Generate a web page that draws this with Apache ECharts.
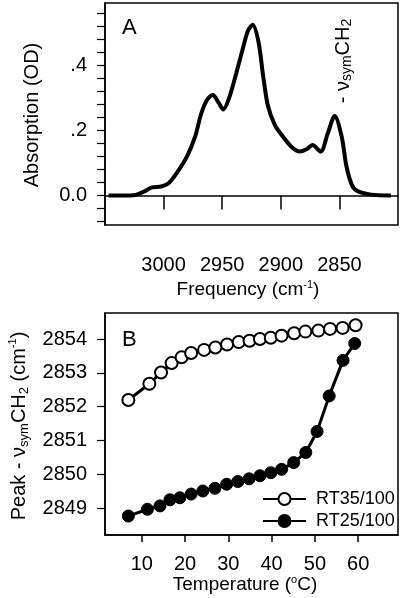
<!DOCTYPE html>
<html><head><meta charset="utf-8">
<script src="https://cdn.jsdelivr.net/npm/echarts@6/dist/echarts.min.js"></script>
<style>html,body{margin:0;padding:0;background:#fff}#c{width:400px;height:598px}</style>
</head><body><div id="c"></div>
<script>
// Panel A: IR spectrum
const freq = [3047,3035,3024,3017,3010,3002,2996,2989,2980,2973,2968,2963,2958,2953,2949,2944,2938,2932,2928,2924,2919,2915,2911,2905,2898,2891,2884,2878,2873,2866,2860,2854,2848,2844,2839,2834,2823,2806];
const absorb = [0.000,0.000,0.002,0.012,0.025,0.028,0.037,0.068,0.120,0.182,0.250,0.293,0.308,0.284,0.264,0.300,0.375,0.456,0.505,0.523,0.470,0.365,0.275,0.216,0.180,0.150,0.135,0.142,0.155,0.135,0.190,0.244,0.180,0.090,0.030,0.013,0.003,0.000];
const freqTicks = [2850,2900,2950,3000];
const absLabelTicks = [0,0.2,0.4];
const absTicks = [-0.08,-0.04,0,0.04,0.08,0.12,0.16,0.2,0.24,0.28,0.32,0.36,0.4,0.44,0.48,0.52,0.56];

// Panel B: peak position vs temperature
const tempOpen = [6.9,11.75,14.45,16.9,19.2,21.4,24.4,27.0,29.7,32.4,34.9,37.3,39.8,42.3,45.2,47.8,50.8,53.5,56.4,59.4];
const peakOpen = [2852.20,2852.68,2853.01,2853.29,2853.46,2853.59,2853.68,2853.75,2853.84,2853.91,2853.95,2854.00,2854.04,2854.10,2854.17,2854.22,2854.25,2854.30,2854.33,2854.41];
const tempFilled = [6.9,11.3,14.2,16.5,18.8,21.4,24.1,26.9,29.6,32.2,34.8,37.3,39.8,42.3,45.1,47.9,50.5,53.3,56.5,59.2];
const peakFilled = [2848.77,2848.97,2849.07,2849.25,2849.31,2849.42,2849.51,2849.59,2849.71,2849.79,2849.87,2849.96,2850.05,2850.15,2850.35,2850.65,2851.27,2852.32,2853.37,2853.87];
const tempTicks = [10,20,30,40,50,60];
const peakTicks = [2849,2850,2851,2852,2853,2854];
const seriesNames = ['RT35/100','RT25/100'];

const FF = 'Liberation Sans, Arial, sans-serif';
const black = '#000';
const plain = v => String(v);

function axisCommon(){
  return {
    axisLine:{show:true, lineStyle:{color:black, width:1.5}},
    splitLine:{show:false},
  };
}

const chart = echarts.init(document.getElementById('c'), null, {renderer:'canvas'});
chart.setOption({
  animation:false,
  backgroundColor:'#fff',
  grid:[
    {left:105, top:3, width:293, height:222, show:true, borderColor:black, borderWidth:1.5},
    {left:105, top:313, width:293, height:222, show:true, borderColor:black, borderWidth:1.5}
  ],
  xAxis:[
    Object.assign(axisCommon(), {gridIndex:0, type:'value', min:2800, max:3050, inverse:true,
      axisTick:{show:true, length:14, customValues:freqTicks, lineStyle:{color:black, width:1.5}},
      axisLabel:{customValues:freqTicks, margin:30, fontSize:20, color:black, fontFamily:FF, formatter:plain}}),
    Object.assign(axisCommon(), {gridIndex:1, type:'value', min:1.5, max:69.2,
      axisTick:{show:true, length:7, customValues:tempTicks, lineStyle:{color:black, width:1.5}},
      axisLabel:{customValues:tempTicks, margin:19, fontSize:20, color:black, fontFamily:FF, formatter:plain}})
  ],
  yAxis:[
    Object.assign(axisCommon(), {gridIndex:0, type:'value', min:-0.09, max:0.59,
      axisTick:{show:true, length:8, customValues:absTicks, lineStyle:{color:black, width:1.2}},
      axisLabel:{customValues:absLabelTicks, margin:18, fontSize:20, color:black, fontFamily:FF,
        formatter:v => Math.abs(v) < 1e-9 ? '0.0' : '.' + Math.round(v*10)}}),
    Object.assign(axisCommon(), {gridIndex:1, type:'value', min:2848.21, max:2854.77,
      axisTick:{show:true, length:8, customValues:peakTicks, lineStyle:{color:black, width:1.2}},
      axisLabel:{customValues:peakTicks, margin:18, fontSize:20, color:black, fontFamily:FF, formatter:plain}})
  ],
  legend:{
    data:seriesNames, orient:'vertical', left:257, top:485, itemWidth:43, itemHeight:15, itemGap:4,
    selectedMode:false,
    textStyle:{fontSize:18, color:black, fontFamily:FF, lineHeight:15, padding:[0,0,0,5]}
  },
  series:[
    {type:'line', name:'spectrum', xAxisIndex:0, yAxisIndex:0, symbol:'none', smooth:0.3,
      lineStyle:{color:black, width:4}, itemStyle:{color:black},
      data:freq.map((f,i)=>[f, absorb[i]])},
    {type:'line', name:seriesNames[0], xAxisIndex:1, yAxisIndex:1, symbol:'circle', symbolSize:12,
      lineStyle:{color:black, width:3}, itemStyle:{color:'#fff', borderColor:black, borderWidth:2},
      data:tempOpen.map((t,i)=>[t, peakOpen[i]])},
    {type:'line', name:seriesNames[1], xAxisIndex:1, yAxisIndex:1, symbol:'circle', symbolSize:12,
      lineStyle:{color:black, width:3}, itemStyle:{color:black, borderColor:black, borderWidth:1},
      data:tempFilled.map((t,i)=>[t, peakFilled[i]])}
  ],
  graphic:[
    {type:'text', x:122, y:28, style:{text:'A', fontSize:22, fontFamily:FF, fill:black, align:'left', verticalAlign:'middle'}},
    {type:'text', x:122, y:340, style:{text:'B', fontSize:22, fontFamily:FF, fill:black, align:'left', verticalAlign:'middle'}},
    {type:'text', x:343, y:61, rotation:Math.PI/2,
      style:{text:'{a|- ν}{s|sym}{a|CH}{s|2}', align:'center', verticalAlign:'middle',
        rich:{a:{fontSize:20, fontFamily:FF, fill:black, lineHeight:23}, s:{fontSize:14, fontFamily:FF, fill:black, lineHeight:14, verticalAlign:'bottom'}}}},
    {type:'text', x:32, y:115, rotation:Math.PI/2,
      style:{text:'Absorption (OD)', fontSize:20, fontFamily:FF, fill:black, align:'center', verticalAlign:'middle'}},
    {type:'text', x:248, y:290,
      style:{text:'{a|Frequency (cm}{p|-1}{a|)}', align:'center', verticalAlign:'middle',
        rich:{a:{fontSize:19, fontFamily:FF, fill:black, lineHeight:22}, p:{fontSize:11, fontFamily:FF, fill:black, lineHeight:11, verticalAlign:'top'}}}},
    {type:'text', x:19, y:426, rotation:Math.PI/2,
      style:{text:'{a|Peak - ν}{s|sym}{a|CH}{s|2}{a| (cm}{p|-1}{a|)}', align:'center', verticalAlign:'middle',
        rich:{a:{fontSize:20, fontFamily:FF, fill:black, lineHeight:23}, s:{fontSize:13, fontFamily:FF, fill:black, lineHeight:13, verticalAlign:'bottom'}, p:{fontSize:11, fontFamily:FF, fill:black, lineHeight:11, verticalAlign:'top'}}}},
    {type:'text', x:245, y:585,
      style:{text:'{a|Temperature (}{p|o}{a|C)}', align:'center', verticalAlign:'middle',
        rich:{a:{fontSize:19, fontFamily:FF, fill:black, lineHeight:22}, p:{fontSize:11, fontFamily:FF, fill:black, lineHeight:11, verticalAlign:'top'}}}}
  ]
});
</script>
</body></html>
